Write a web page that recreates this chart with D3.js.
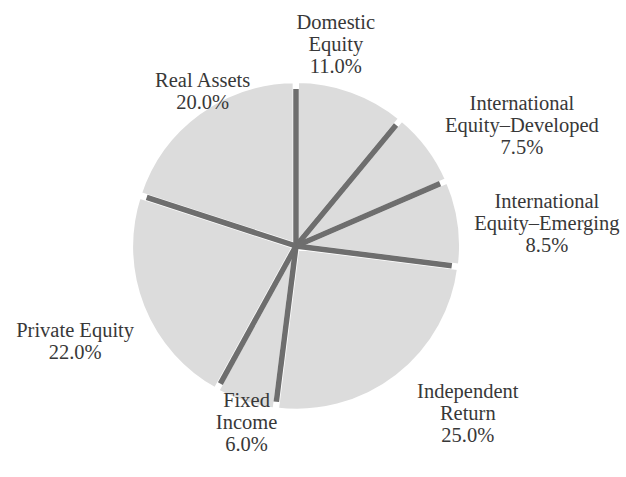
<!DOCTYPE html>
<head>
    <meta charset="utf-8">
    <title>Asset allocation pie</title>
    <style>
        body { margin: 0; background: #fff; }
        svg { display: block; }
    </style>
</head>
<body>

<svg width="626" height="477"></svg>

<script src="https://d3js.org/d3.v7.min.js"></script>

<script>

    // Data, clockwise from 12 o'clock
    const categories = [
        ["Domestic", "Equity"],
        ["International", "Equity\u2013Developed"],
        ["International", "Equity\u2013Emerging"],
        ["Independent", "Return"],
        ["Fixed", "Income"],
        ["Private Equity"],
        ["Real Assets"]
    ];
    const shares = [11.0, 7.5, 8.5, 25.0, 6.0, 22.0, 20.0];

    const svg = d3.select("svg");
    const cx = 296, cy = 246;
    const radius = 164;
    const lineRadius = 157;
    const labelRadius = 215;
    const fontSize = 20.5;
    const lineGap = 22;

    // hand nudges so the labels sit where the original has them
    const nudges = [[-33, 0], [54, 8], [38, 7], [40, -3], [17, -29], [-21, 16], [33, 19]];

    const format = d3.format(".1f");

    const pie = d3.pie()
        .sort(null)
        .value(d => d);

    const arcs = pie(shares);

    const arc = d3.arc()
        .innerRadius(0)
        .outerRadius(radius);

    const g = svg.append("g")
        .attr("transform", "translate(" + cx + "," + cy + ")");

    // light grey slices, nudged a little outward, white edges make the gaps
    g.selectAll("path.slice")
        .data(arcs)
        .enter().append("path")
            .attr("class", "slice")
            .attr("d", arc)
            .attr("transform", function(d) {
                const a = (d.startAngle + d.endAngle) / 2;
                const p = d3.pointRadial(a, 1.5);
                return "translate(" + p[0] + "," + p[1] + ")";
            })
            .attr("fill", "#dcdcdc")
            .attr("stroke", "#fff")
            .attr("stroke-width", 5);

    // dark dividers from the middle out along each slice edge
    g.selectAll("line.divider")
        .data(arcs)
        .enter().append("line")
            .attr("class", "divider")
            .attr("x1", 0)
            .attr("y1", 0)
            .attr("x2", d => d3.pointRadial(d.startAngle, lineRadius)[0])
            .attr("y2", d => d3.pointRadial(d.startAngle, lineRadius)[1])
            .attr("stroke", "#6e6e6e")
            .attr("stroke-width", 5.5);

    // labels: name lines plus the percentage
    const label = svg.selectAll("text.label")
        .data(arcs)
        .enter().append("text")
            .attr("class", "label")
            .attr("text-anchor", "middle")
            .attr("font-family", "'Liberation Serif', 'Times New Roman', serif")
            .attr("font-size", fontSize)
            .attr("fill", "#383838")
            .attr("transform", function(d, i) {
                const a = (d.startAngle + d.endAngle) / 2;
                const p = d3.pointRadial(a, labelRadius);
                return "translate(" + (cx + p[0] + nudges[i][0]) + "," + (cy + p[1] + nudges[i][1]) + ")";
            });

    label.selectAll("tspan")
        .data(function(d, i) { return categories[i].concat([format(shares[i]) + "%"]); })
        .enter().append("tspan")
            .attr("x", 0)
            .attr("y", function(d, i, nodes) {
                const n = nodes.length;
                return (i - (n - 1) / 2) * lineGap + fontSize * 0.35;
            })
            .text(d => d);

</script>

</body>
